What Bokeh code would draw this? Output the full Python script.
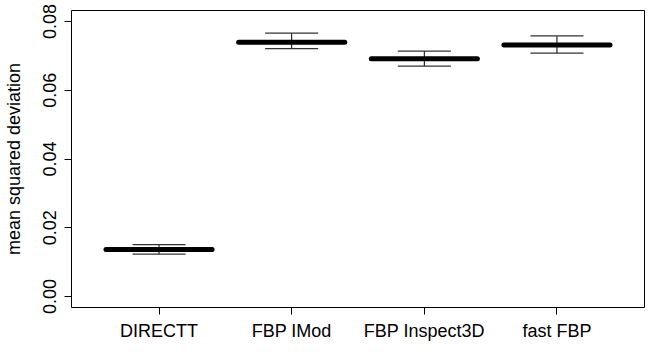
from bokeh.plotting import figure
from bokeh.models import Range1d, FixedTicker, ColumnDataSource
from bokeh.embed import file_html
from bokeh.resources import INLINE

categories = ["DIRECTT", "FBP IMod", "FBP Inspect3D", "fast FBP"]
medians = [0.0137, 0.0740, 0.0692, 0.0732]
q1 = [0.0135, 0.0738, 0.0690, 0.0730]
q3 = [0.0139, 0.0742, 0.0694, 0.0734]
lower = [0.0123, 0.0721, 0.0670, 0.0708]
upper = [0.0151, 0.0766, 0.0714, 0.0758]
y_ticks = [0.0, 0.02, 0.04, 0.06, 0.08]
y_tick_labels = ["0.00", "0.02", "0.04", "0.06", "0.08"]
y_title = "mean squared deviation"

pos = [i + 1 for i in range(len(categories))]
src = ColumnDataSource(dict(
    x=pos,
    box_l=[p - 0.4 for p in pos], box_r=[p + 0.4 for p in pos],
    cap_l=[p - 0.2 for p in pos], cap_r=[p + 0.2 for p in pos],
    med=medians, q1=q1, q3=q3, lo=lower, hi=upper,
))

FONT = "Liberation Sans"

p = figure(width=652, height=357, output_backend="svg", toolbar_location=None,
           x_range=Range1d(0.34, 4.66), y_range=Range1d(-0.0032, 0.0832),
           min_border_left=70, min_border_right=8, min_border_top=10, min_border_bottom=50)
p.grid.visible = False
p.background_fill_color = "white"
p.border_fill_color = "white"
p.outline_line_color = "black"
p.outline_line_width = 1

# whiskers
p.segment(x0="x", y0="lo", x1="x", y1="hi", source=src, line_color="black", line_width=1)
# caps
p.segment(x0="cap_l", y0="hi", x1="cap_r", y1="hi", source=src, line_color="#333333", line_width=1.3)
p.segment(x0="cap_l", y0="lo", x1="cap_r", y1="lo", source=src, line_color="#333333", line_width=1.3)
# boxes
p.quad(left="box_l", right="box_r", bottom="q1", top="q3", source=src,
       fill_color="white", line_color="black", line_width=1)
# medians
p.segment(x0="box_l", y0="med", x1="box_r", y1="med", source=src,
          line_color="black", line_width=5, line_cap="round")

# axes
xa = p.xaxis[0]
xa.ticker = FixedTicker(ticks=pos)
xa.major_label_overrides = {v: c for v, c in zip(pos, categories)}
ya = p.yaxis[0]
ya.ticker = FixedTicker(ticks=y_ticks)
ya.major_label_overrides = {v: s for v, s in zip(y_ticks, y_tick_labels)}
ya.major_label_orientation = "vertical"
ya.axis_label = y_title

for ax in (xa, ya):
    ax.axis_line_color = None
    ax.major_tick_out = 7
    ax.major_tick_in = 0
    ax.major_tick_line_color = "black"
    ax.minor_tick_line_color = None
    ax.major_label_text_font = FONT
    ax.major_label_text_font_size = "18px"
    ax.major_label_text_color = "black"
    ax.axis_label_text_font = FONT
    ax.axis_label_text_font_size = "18px"
    ax.axis_label_text_font_style = "normal"
    ax.axis_label_text_color = "black"

xa.major_label_standoff = 6
ya.major_label_standoff = 9
ya.axis_label_standoff = 16

open("out.html", "w").write(file_html(p, INLINE))
